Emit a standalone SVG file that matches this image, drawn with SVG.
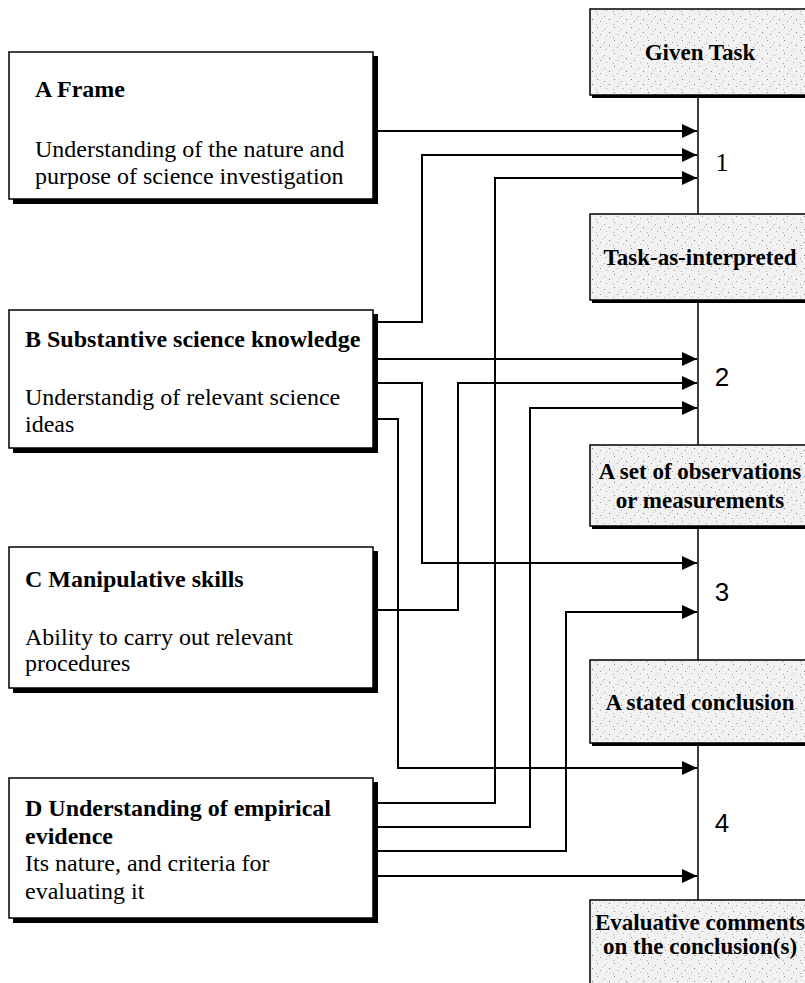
<svg xmlns="http://www.w3.org/2000/svg" width="805" height="983" viewBox="0 0 805 983">
<style>
  .lbox { fill: #ffffff; stroke: #000; stroke-width: 1.5; }
  .shadow { fill: #000; }
  .gbox { fill: url(#stipple); stroke: #000; stroke-width: 1.5; }
  .title { font-family: "Liberation Serif", "Times New Roman", serif; font-size: 24px; font-weight: bold; fill: #000; }
  .body { font-family: "Liberation Serif", "Times New Roman", serif; font-size: 24px; fill: #000; }
  .gtext { font-family: "Liberation Serif", "Times New Roman", serif; font-size: 23px; font-weight: bold; fill: #000; text-anchor: middle; }
  .num { font-family: "Liberation Serif", "Times New Roman", serif; font-size: 26px; fill: #000; text-anchor: middle; }
  .num2 { font-family: "Liberation Sans", Arial, sans-serif; font-size: 26px; fill: #000; text-anchor: middle; }
  .conn { fill: none; stroke: #000; stroke-width: 2; }
  .spine { fill: none; stroke: #000; stroke-width: 1.5; }
</style>
<defs>
  <pattern id="stipple" patternUnits="userSpaceOnUse" width="17" height="13">
    <rect width="17" height="13" fill="#f1f1f1"/>
    <rect x="2" y="1" width="1" height="1" fill="#8a8a8a"/>
    <rect x="9" y="3" width="1" height="1" fill="#a0a0a0"/>
    <rect x="14" y="6" width="1" height="1" fill="#7a7a7a"/>
    <rect x="5" y="8" width="1" height="1" fill="#999"/>
    <rect x="11" y="10" width="1" height="1" fill="#b0b0b0"/>
    <rect x="1" y="11" width="1" height="1" fill="#aaa"/>
    <rect x="7" y="5" width="1" height="1" fill="#c0c0c0"/>
  </pattern>
  <marker id="arrow" markerUnits="userSpaceOnUse" markerWidth="16" markerHeight="15" refX="15" refY="7" orient="auto">
    <path d="M0,0 L15,7 L0,14 z" fill="#000"/>
  </marker>
</defs>

<!-- Left boxes -->
<g id="nodeA">
  <rect class="shadow" x="13" y="56" width="365" height="148"/>
  <rect class="lbox" x="9" y="52" width="364" height="147"/>
  <text class="title" x="35" y="97">A Frame</text>
  <text class="body" x="35" y="157">Understanding of the nature and</text>
  <text class="body" x="35" y="184">purpose of science investigation</text>
</g>
<g id="nodeB">
  <rect class="shadow" x="13" y="314" width="365" height="139"/>
  <rect class="lbox" x="9" y="310" width="364" height="138"/>
  <text class="title" x="25" y="347">B Substantive science knowledge</text>
  <text class="body" x="25" y="405">Understandig of relevant science</text>
  <text class="body" x="25" y="432">ideas</text>
</g>
<g id="nodeC">
  <rect class="shadow" x="13" y="551" width="365" height="142"/>
  <rect class="lbox" x="9" y="547" width="364" height="141"/>
  <text class="title" x="25" y="587">C Manipulative skills</text>
  <text class="body" x="25" y="645">Ability to carry out relevant</text>
  <text class="body" x="25" y="671">procedures</text>
</g>
<g id="nodeD">
  <rect class="shadow" x="13" y="782" width="365" height="141"/>
  <rect class="lbox" x="9" y="778" width="364" height="140"/>
  <text class="title" x="25" y="816">D Understanding of empirical</text>
  <text class="title" x="25" y="844">evidence</text>
  <text class="body" x="25" y="871">Its nature, and criteria for</text>
  <text class="body" x="25" y="899">evaluating it</text>
</g>

<!-- Right stage boxes -->
<g id="given">
  <rect class="shadow" x="592" y="12" width="220" height="86"/>
  <rect class="gbox" x="590" y="9" width="220" height="86"/>
  <text class="gtext" x="700" y="60">Given Task</text>
</g>
<g id="interpreted">
  <rect class="shadow" x="592" y="217" width="220" height="86"/>
  <rect class="gbox" x="590" y="214" width="220" height="86"/>
  <text class="gtext" x="700" y="265">Task-as-interpreted</text>
</g>
<g id="observations">
  <rect class="shadow" x="592" y="448" width="220" height="81"/>
  <rect class="gbox" x="590" y="445" width="220" height="81"/>
  <text class="gtext" x="700" y="479">A set of observations</text>
  <text class="gtext" x="700" y="508">or measurements</text>
</g>
<g id="conclusion">
  <rect class="shadow" x="592" y="663" width="220" height="83"/>
  <rect class="gbox" x="590" y="660" width="220" height="83"/>
  <text class="gtext" x="700" y="710">A stated conclusion</text>
</g>
<g id="evaluative">
  <rect class="gbox" x="590" y="900" width="220" height="100"/>
  <text class="gtext" x="700" y="930">Evaluative comments</text>
  <text class="gtext" x="700" y="954">on the conclusion(s)</text>
</g>

<!-- Step numbers -->
<g id="steps">
  <text class="num" x="722" y="171">1</text>
  <text class="num2" x="722" y="386">2</text>
  <text class="num2" x="722" y="601">3</text>
  <text class="num2" x="722" y="832">4</text>
</g>

<!-- Connectors -->
<g id="connectors">
  <path class="spine" d="M698,97 V214 M698,303 V445 M698,529 V660 M698,746 V900"/>
  <path class="conn" marker-end="url(#arrow)" d="M373,131 H697"/>
  <path class="conn" marker-end="url(#arrow)" d="M373,322 H422 V155 H697"/>
  <path class="conn" marker-end="url(#arrow)" d="M373,803 H495 V178 H697"/>
  <path class="conn" marker-end="url(#arrow)" d="M373,359 H697"/>
  <path class="conn" marker-end="url(#arrow)" d="M373,610 H458 V383 H697"/>
  <path class="conn" marker-end="url(#arrow)" d="M373,827 H530 V408 H697"/>
  <path class="conn" marker-end="url(#arrow)" d="M373,383 H422 V563 H697"/>
  <path class="conn" marker-end="url(#arrow)" d="M373,851 H566 V612 H697"/>
  <path class="conn" marker-end="url(#arrow)" d="M373,419 H398 V768 H697"/>
  <path class="conn" marker-end="url(#arrow)" d="M373,876 H697"/>
</g>
</svg>
